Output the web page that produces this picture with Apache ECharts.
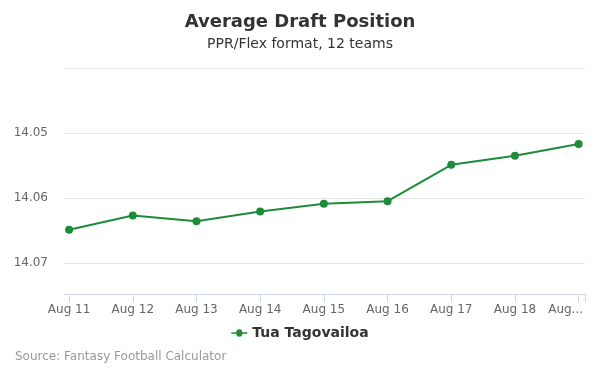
<!DOCTYPE html>
<html><head><meta charset="utf-8">
<script src="https://cdn.jsdelivr.net/npm/echarts@6/dist/echarts.min.js"></script>
<style>html,body{margin:0;padding:0;background:#fff}#c{width:600px;height:375px}</style>
</head><body><div id="c"></div>
<script>
var categories = ['Aug 11','Aug 12','Aug 13','Aug 14','Aug 15','Aug 16','Aug 17','Aug 18','Aug 19'];
var adpValues = [14.0649, 14.0627, 14.0636, 14.0621, 14.0609, 14.0605, 14.0549, 14.0535, 14.0517];
var seriesName = 'Tua Tagovailoa';
var yTicks = [14.05, 14.06, 14.07];

var font = 'DejaVu Sans';
var idx = categories.map(function (c, i) { return i; });
var xMin = -0.08, xMax = 8.1;
var chart = echarts.init(document.getElementById('c'));
chart.setOption({
  animation: false,
  textStyle: {fontFamily: font},
  title: [
    {text: 'Average Draft Position', left: 'center', top: 8,
     textStyle: {fontFamily: font, fontSize: 18, fontWeight: 'bold', color: '#333'}},
    {text: 'PPR/Flex format, 12 teams', left: 'center', top: 32,
     textStyle: {fontFamily: font, fontSize: 14, fontWeight: 'normal', color: '#333'}},
    {text: 'Source: Fantasy Football Calculator', left: 10, top: 346,
     textStyle: {fontFamily: font, fontSize: 12, fontWeight: 'normal', color: '#999'}}
  ],
  legend: {
    bottom: 30, left: 'center', itemWidth: 16, itemHeight: 10, itemGap: 5,
    data: [{name: seriesName, icon: 'path://M0,4.3 L5,4.3 A3,3 0 1 1 11,4.3 L16,4.3 L16,5.7 L11,5.7 A3,3 0 1 1 5,5.7 L0,5.7 Z'}],
    textStyle: {fontFamily: font, fontSize: 14, fontWeight: 'bold', color: '#333'}
  },
  grid: {left: 64, right: 15, top: 68, bottom: 81},
  xAxis: {
    type: 'value', min: xMin, max: xMax,
    axisLine: {onZero: false, lineStyle: {color: '#ccd6eb'}},
    axisTick: {show: true, length: 8, lineStyle: {color: '#ccd6eb'}, customValues: idx.concat([xMax])},
    splitLine: {show: false},
    axisLabel: {
      color: '#666', fontSize: 12, margin: 10,
      customValues: idx,
      rich: {last: {color: '#666', fontSize: 12, fontFamily: font, padding: [0, 26, 0, 0]}},
      formatter: function (v) {
        var i = Math.round(v);
        var s = categories[i];
        if (s === undefined) return '';
        return i === categories.length - 1 ? '{last|' + s.slice(0, 3) + '...}' : s;
      }
    }
  },
  yAxis: {
    type: 'value', inverse: true, min: 14.04, max: 14.0748, interval: 0.01,
    axisLine: {show: false}, axisTick: {show: false},
    splitLine: {lineStyle: {color: '#e6e6e6'}},
    axisLabel: {
      color: '#666', fontSize: 12, margin: 16,
      formatter: function (v) {
        for (var k = 0; k < yTicks.length; k++) if (Math.abs(v - yTicks[k]) < 1e-6) return yTicks[k].toFixed(2);
        return '';
      }
    }
  },
  series: [{
    name: seriesName, type: 'line',
    data: adpValues.map(function (v, i) { return [i, v]; }),
    symbol: 'circle', symbolSize: 8,
    lineStyle: {color: '#1e8b3b', width: 2},
    itemStyle: {color: '#1e8b3b'}
  }]
});
</script></body></html>
